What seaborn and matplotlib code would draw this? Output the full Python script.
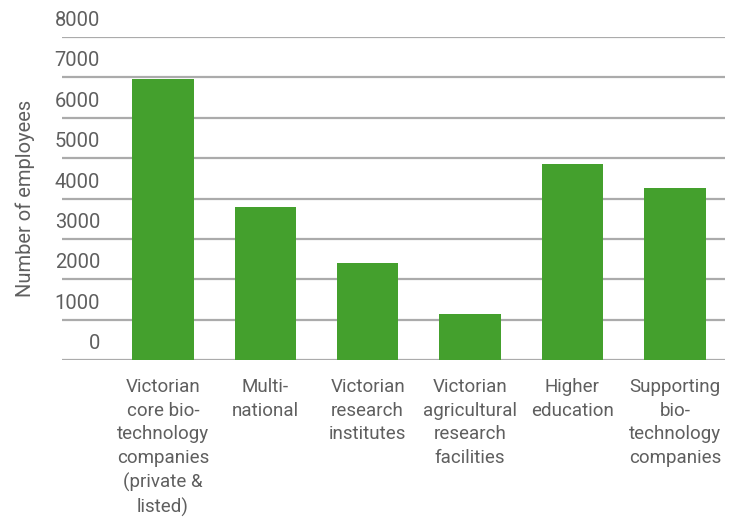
import matplotlib
matplotlib.use("Agg")
import matplotlib.pyplot as plt
import matplotlib.transforms as mtransforms
import pandas as pd
import seaborn as sns

# ---- data ----
categories = [
    "Victorian\ncore bio-\ntechnology\ncompanies\n(private &\nlisted)",
    "Multi-\nnational",
    "Victorian\nresearch\ninstitutes",
    "Victorian\nagricultural\nresearch\nfacilities",
    "Higher\neducation",
    "Supporting\nbio-\ntechnology\ncompanies",
]
employees = [6950, 3800, 2400, 1140, 4850, 4260]
y_ticks = [0, 1000, 2000, 3000, 4000, 5000, 6000, 7000, 8000]

df = pd.DataFrame({"category": categories, "employees": employees})

sns.set_style("white")
plt.rcParams["font.family"] = ["Roboto", "DejaVu Sans"]

text_col = "#5f5f5f"
bar_col = "#44a02d"

fig = plt.figure(figsize=(7.5, 5.26), dpi=100)
ax_left, ax_right = 62, 725
ax = fig.add_axes([ax_left / 750, (526 - 360) / 526,
                   (ax_right - ax_left) / 750, (360 - 37) / 526])

sns.barplot(data=df, x="category", y="employees", color=bar_col,
            saturation=1, width=0.6, linewidth=0, ax=ax)

ax.set_xlim(-0.985, 5.49)
ax.set_ylim(0, 8000)

# gridlines
for v in y_ticks:
    ax.axhline(v, color="#ababab", lw=1.6, zorder=0)

# y labels sit above each gridline, inside the plot area (right edge at x=100px)
ax.set_yticks([])
label_x = (100 - ax_left) / (ax_right - ax_left)
trans = mtransforms.offset_copy(ax.get_yaxis_transform(), fig=fig, x=0, y=7, units="dots")
for v in y_ticks:
    ax.text(label_x, v, f"{v}", transform=trans,
            ha="right", va="bottom", fontsize=14.5, color=text_col)

ax.set_xlabel("")
ax.set_ylabel("")
ax.tick_params(axis="x", length=0, pad=13, labelsize=13.5, labelcolor=text_col)
for lab in ax.get_xticklabels():
    lab.set_linespacing(1.4)

fig.text(25 / 750, 1 - 198 / 526, "Number of employees", rotation=90,
         ha="center", va="center", fontsize=14.5, color=text_col)

sns.despine(ax=ax, left=True, bottom=True)

fig.savefig("out.png", dpi=100)
